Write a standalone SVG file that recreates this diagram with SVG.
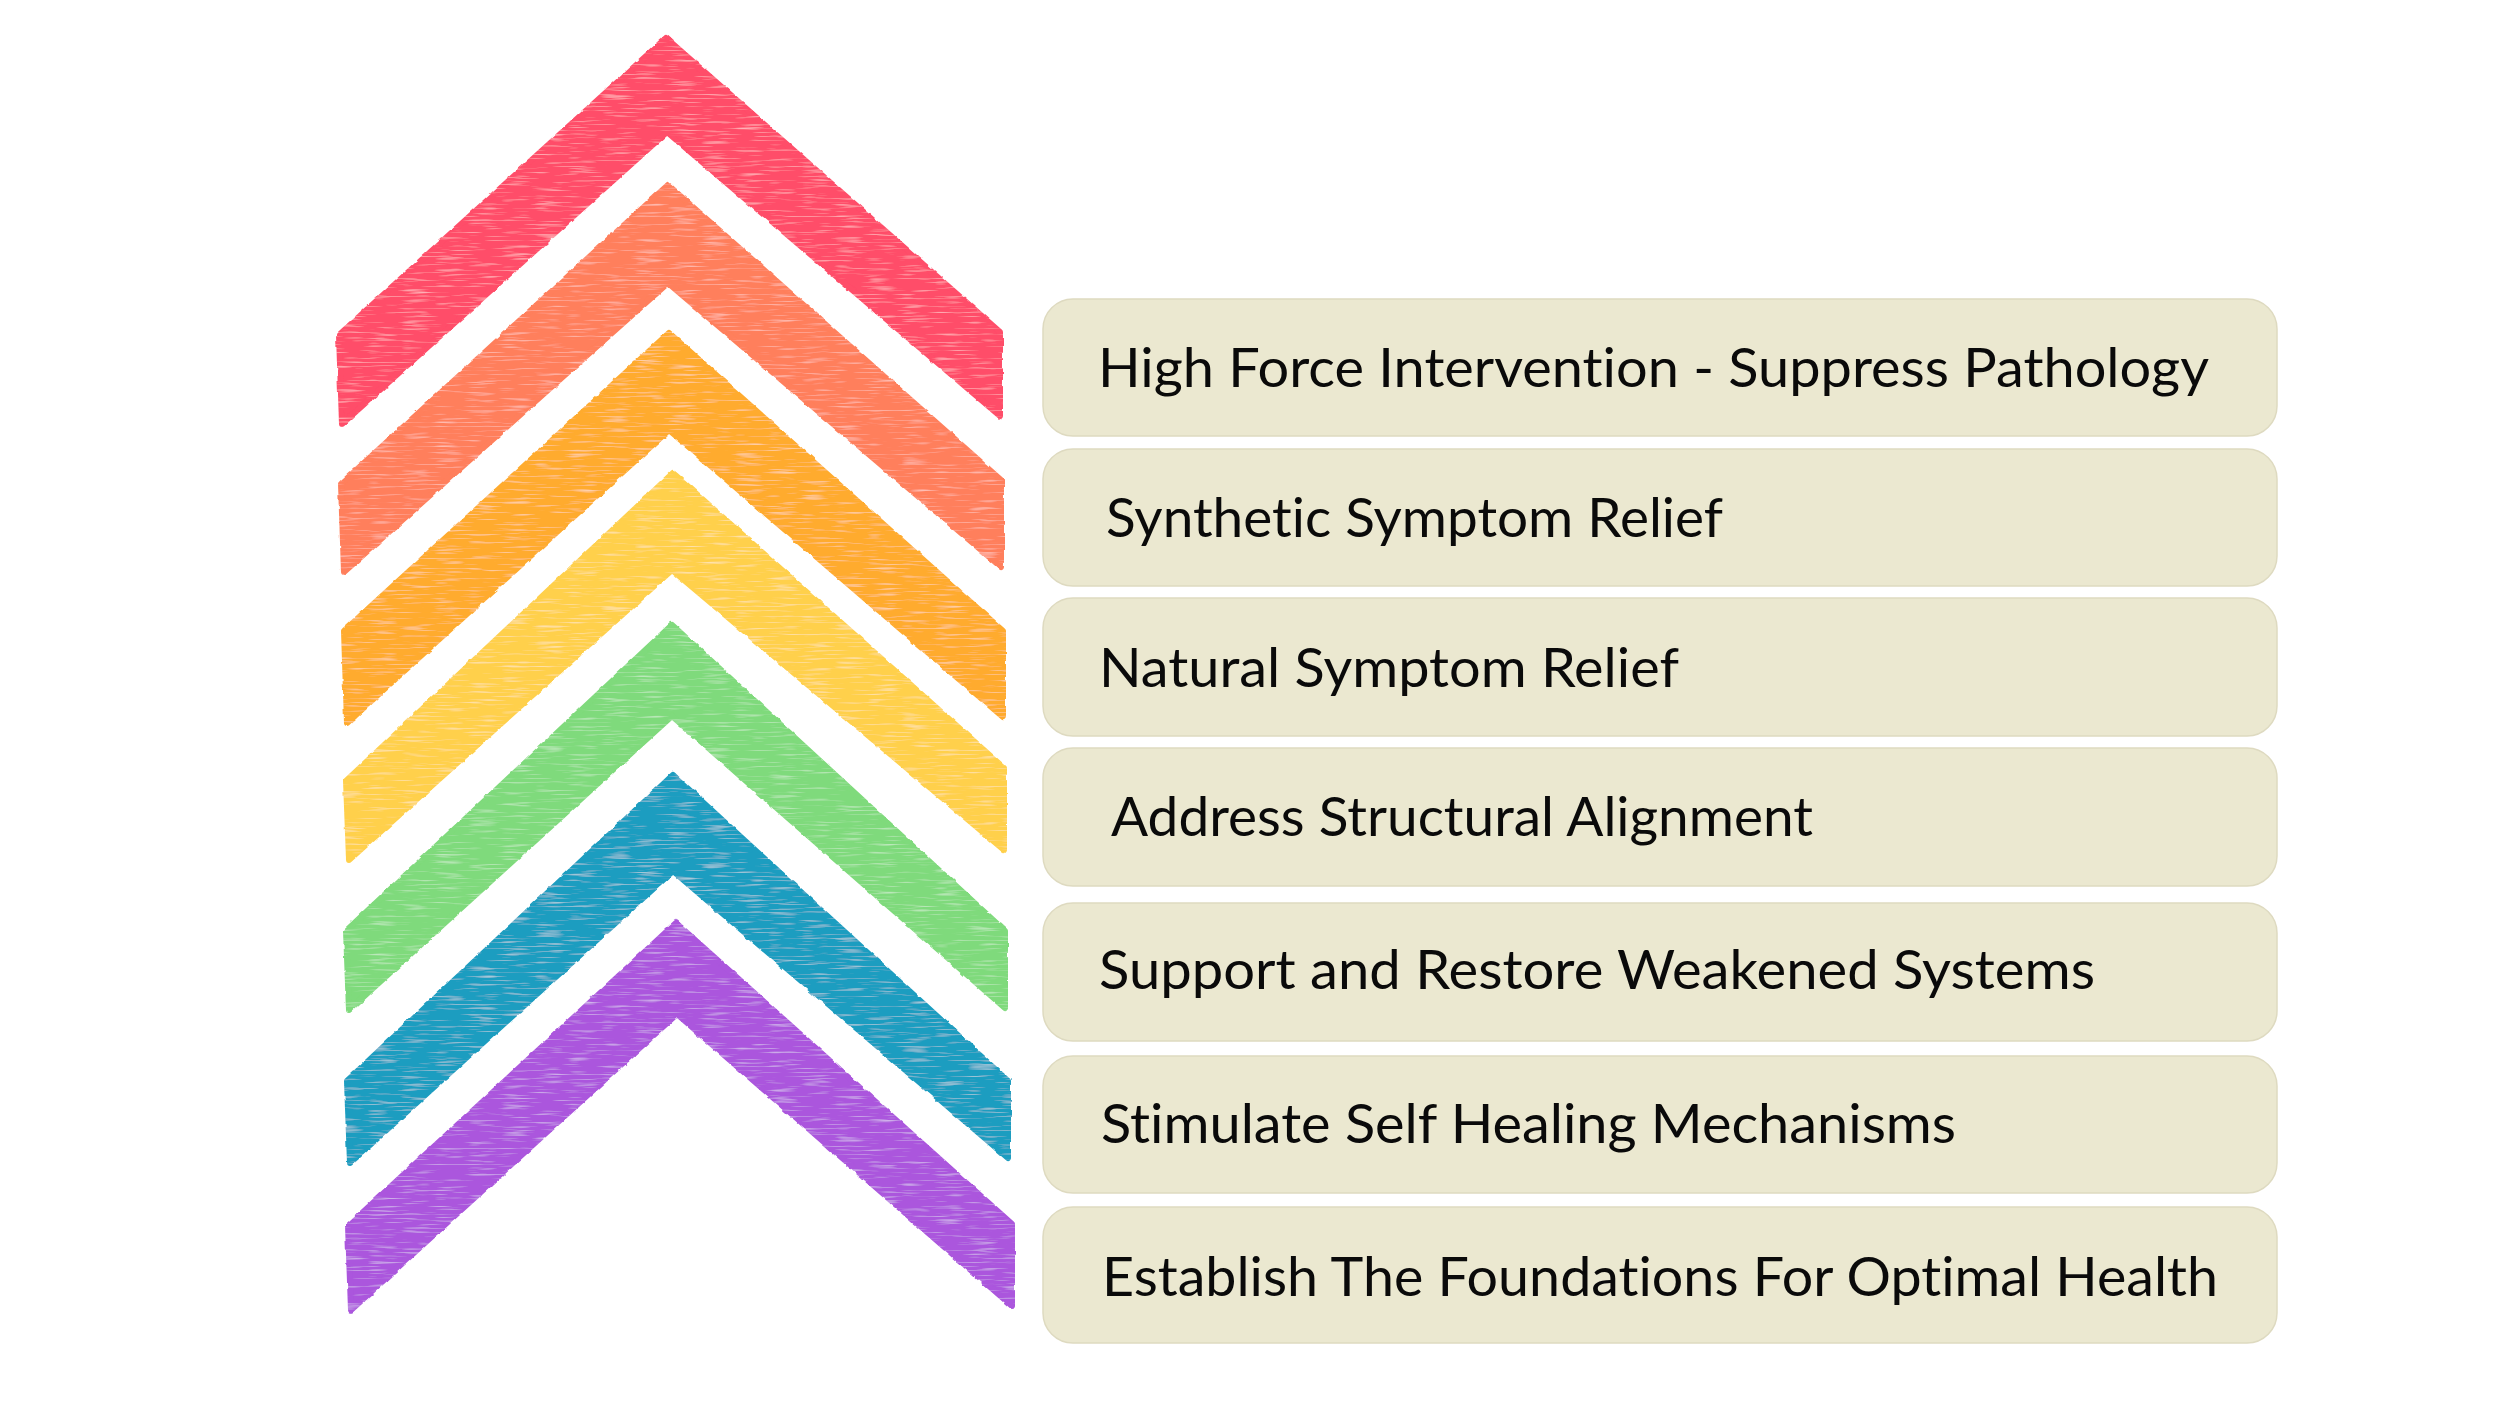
<svg xmlns="http://www.w3.org/2000/svg" width="2500" height="1406" viewBox="0 0 2500 1406">
<defs>
<filter id="crayon" x="-5%" y="-5%" width="110%" height="110%">
<feTurbulence type="fractalNoise" baseFrequency="0.12" numOctaves="2" seed="3" result="n"/>
<feDisplacementMap in="SourceGraphic" in2="n" scale="3" xChannelSelector="R" yChannelSelector="G" result="d"/>
<feTurbulence type="fractalNoise" baseFrequency="0.03 0.5" numOctaves="2" seed="7" result="s"/>
<feColorMatrix in="s" type="matrix" values="0 0 0 0 1  0 0 0 0 1  0 0 0 0 1  0 0 0 -1.1 0.5" result="w"/>
<feComposite in="w" in2="d" operator="in" result="wi"/>
<feMerge><feMergeNode in="d"/><feMergeNode in="wi"/></feMerge>
</filter>
<style>
.chev{stroke-width:6;stroke-linejoin:round;filter:url(#crayon)}
.box{fill:#EBE8D0;stroke:#DEDAC0;stroke-width:1.5}
.lbl{font-family:Lato,"Liberation Sans",sans-serif;font-size:54px;fill:#0a0a0a;font-variant-ligatures:none}
</style>
</defs>
<rect width="2500" height="1406" fill="#ffffff"/>
<g id="chevrons">
<path id="chev-red" class="chev" fill="#FF4D69" stroke="#FF4D69" d="M666 38 L339 335 L342 424 L667 132 L1000 416 L1000 332 Z"/>
<path id="chev-orange" class="chev" fill="#FF7F5B" stroke="#FF7F5B" d="M668 185 L341 484 L344 572 L668 283 L1001 567 L1001 480 Z"/>
<path id="chev-amber" class="chev" fill="#FFAB2E" stroke="#FFAB2E" d="M669 333 L344 631 L347 723 L669 430 L1003 717 L1003 631 Z"/>
<path id="chev-yellow" class="chev" fill="#FFD04C" stroke="#FFD04C" d="M673 473 L346 781 L349 860 L672 570 L1004 850 L1004 768 Z"/>
<path id="chev-green" class="chev" fill="#7FDA7B" stroke="#7FDA7B" d="M672 625 L346 931 L349 1010 L672 716 L1005 1008 L1005 931 Z"/>
<path id="chev-blue" class="chev" fill="#1B9DC0" stroke="#1B9DC0" d="M673 775 L347 1081 L350 1163 L673 871 L1008 1158 L1008 1081 Z"/>
<path id="chev-purple" class="chev" fill="#AB56DD" stroke="#AB56DD" d="M676 923 L348 1226 L351 1310 L677 1014 L1012 1306 L1012 1224 Z"/>
</g>
<g id="node1"><rect class="box" x="1043" y="299" width="1234" height="137" rx="30"/><text class="lbl" x="1098" y="387" textLength="1111" lengthAdjust="spacingAndGlyphs">High Force Intervention - Suppress Pathology</text></g>
<g id="node2"><rect class="box" x="1043" y="449" width="1234" height="137" rx="30"/><text class="lbl" x="1106" y="537" textLength="617" lengthAdjust="spacingAndGlyphs">Synthetic Symptom Relief</text></g>
<g id="node3"><rect class="box" x="1043" y="598" width="1234" height="138" rx="30"/><text class="lbl" x="1099" y="687" textLength="580" lengthAdjust="spacingAndGlyphs">Natural Symptom Relief</text></g>
<g id="node4"><rect class="box" x="1043" y="748" width="1234" height="138" rx="30"/><text class="lbl" x="1111" y="836" textLength="702" lengthAdjust="spacingAndGlyphs">Address Structural Alignment</text></g>
<g id="node5"><rect class="box" x="1043" y="903" width="1234" height="138" rx="30"/><text class="lbl" x="1099" y="989" textLength="996" lengthAdjust="spacingAndGlyphs">Support and Restore Weakened Systems</text></g>
<g id="node6"><rect class="box" x="1043" y="1056" width="1234" height="137" rx="30"/><text class="lbl" x="1101" y="1143" textLength="855" lengthAdjust="spacingAndGlyphs">Stimulate Self Healing Mechanisms</text></g>
<g id="node7"><rect class="box" x="1043" y="1207" width="1234" height="136" rx="30"/><text class="lbl" x="1102" y="1296" textLength="1116" lengthAdjust="spacingAndGlyphs">Establish The Foundations For Optimal Health</text></g>
<g id="connectors"/>
</svg>
